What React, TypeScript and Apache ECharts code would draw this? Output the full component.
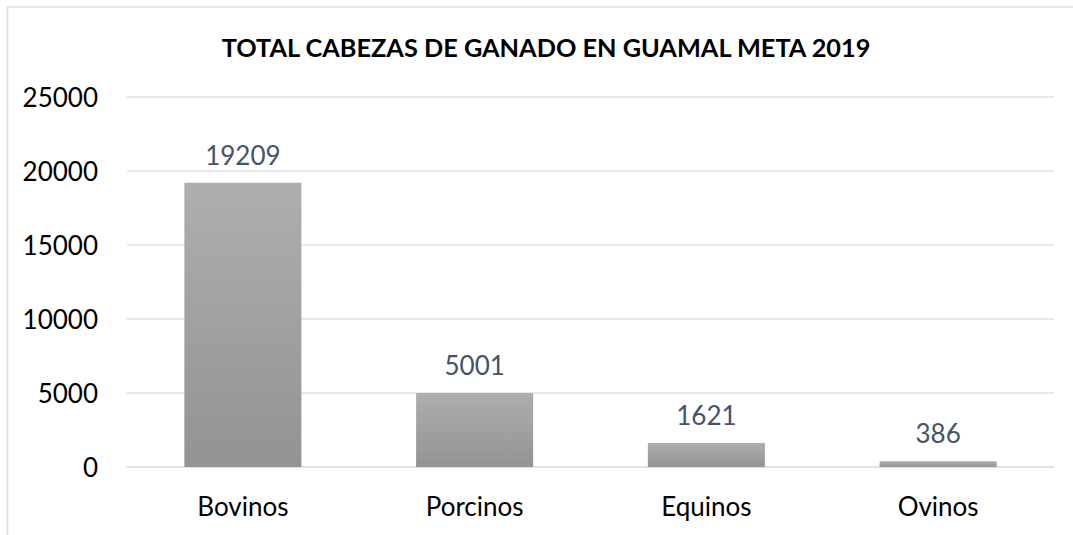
import React, { useEffect, useRef } from "react";
import * as echarts from "echarts";

const titleText = "TOTAL CABEZAS DE GANADO EN GUAMAL META 2019";
const categories = ["Bovinos", "Porcinos", "Equinos", "Ovinos"];
const values = [19209, 5001, 1621, 386];
const yMin = 0;
const yMax = 25000;
const yInterval = 5000;

const FONT = "Lato";

export default function App() {
  const ref = useRef<HTMLDivElement>(null);
  useEffect(() => {
    document.body.style.margin = "0";
    if (!ref.current) return;
    const chart = echarts.init(ref.current, null, { renderer: "svg" });
    chart.setOption({
      animation: false,
      backgroundColor: "#ffffff",
      title: {
        text: titleText,
        left: 541,
        top: 29,
        textAlign: "center",
        textStyle: {
          fontFamily: FONT,
          fontWeight: "bold",
          fontSize: 25.3,
          color: "#000000",
        },
      },
      graphic: [
        {
          type: "rect",
          shape: { x: 7.5, y: 7, width: 1200, height: 700 },
          style: { fill: "none", stroke: "#D9DEE4", lineWidth: 1.5 },
          silent: true,
        },
      ],
      grid: { left: 127, right: 19, top: 97, bottom: 68, containLabel: false },
      xAxis: {
        type: "category",
        data: categories,
        axisLine: { show: true, lineStyle: { color: "#DCE1E7", width: 1.5 } },
        axisTick: { show: false },
        axisLabel: {
          margin: 26,
          fontFamily: FONT,
          fontSize: 26,
          color: "#000000",
        },
      },
      yAxis: {
        type: "value",
        min: yMin,
        max: yMax,
        interval: yInterval,
        axisLine: { show: false },
        axisTick: { show: false },
        splitLine: { lineStyle: { color: "#DCE1E7", width: 1.5 } },
        axisLabel: {
          margin: 29,
          fontFamily: FONT,
          fontSize: 26,
          color: "#000000",
          formatter: (v: number) => String(v),
        },
      },
      series: [
        {
          type: "bar",
          data: values,
          barWidth: "50.5%",
          itemStyle: {
            color: new echarts.graphic.LinearGradient(0, 0, 0, 1, [
              { offset: 0, color: "#AEAEAE" },
              { offset: 1, color: "#939393" },
            ]),
          },
          label: {
            show: true,
            position: "top",
            distance: 15,
            fontFamily: FONT,
            fontSize: 26,
            color: "#44546A",
          },
        },
      ],
    });
    return () => chart.dispose();
  }, []);
  return <div ref={ref} style={{ width: 1073, height: 535 }} />;
}
